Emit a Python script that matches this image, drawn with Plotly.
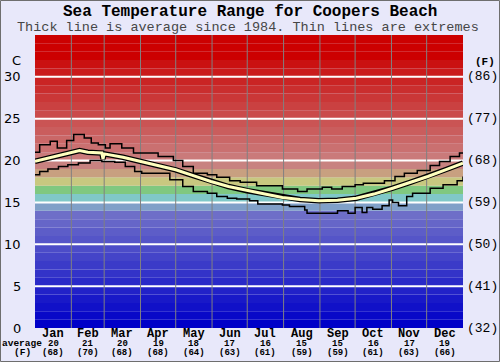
import plotly.graph_objects as go

# ---- data ----
month_names = ["Jan", "Feb", "Mar", "Apr", "May", "Jun", "Jul", "Aug", "Sep", "Oct", "Nov", "Dec"]
month_avg_c = ["20", "21", "20", "19", "18", "17", "16", "15", "15", "16", "17", "19"]
month_avg_f = ["(68)", "(70)", "(68)", "(68)", "(64)", "(63)", "(61)", "(59)", "(59)", "(61)", "(63)", "(66)"]
month_edges = [0, 31, 59, 90, 120, 151, 181, 212, 243, 273, 304, 334, 365]

c_ticks = [0, 5, 10, 15, 20, 25, 30]
f_labels = ["(32)", "(41)", "(50)", "(59)", "(68)", "(77)", "(86)"]

avg_day = [0, 15, 30, 38, 45, 57, 58, 59, 75, 90, 105, 120, 135, 150, 165, 181, 196, 211,
           226, 242, 258, 274, 289, 305, 320, 335, 350, 365]
avg_temp = [19.9, 20.4, 20.9, 21.2, 21.0, 20.9, 20.2, 20.8, 20.4, 19.9, 19.4, 18.9, 18.2, 17.5,
            16.9, 16.4, 16.0, 15.6, 15.35, 15.2, 15.25, 15.5, 16.0, 16.7, 17.4, 18.1, 18.9, 19.7]

max_day = [0, 4, 13, 19, 27, 33, 42, 48, 54, 60, 64, 74, 84, 98, 105, 118, 126, 135, 147, 155,
           166, 175, 189, 211, 224, 232, 245, 253, 262, 273, 280, 298, 307, 315, 326, 337, 345,
           354, 362, 365]
max_temp = [21.0, 21.9, 22.3, 21.5, 22.4, 23.1, 22.7, 22.1, 21.9, 21.5, 22.0, 21.5, 20.9, 20.9,
            20.5, 20.0, 19.3, 18.5, 18.3, 18.0, 17.6, 17.4, 17.0, 16.6, 16.3, 16.6, 16.8, 16.6,
            16.9, 17.1, 17.3, 17.6, 18.1, 18.5, 18.8, 19.4, 19.9, 20.5, 20.9, 20.9]

min_day = [0, 4, 11, 20, 28, 37, 47, 57, 68, 77, 85, 91, 115, 126, 135, 147, 155, 164, 172, 183,
           190, 211, 217, 230, 232, 258, 267, 273, 279, 283, 288, 296, 302, 305, 310, 317, 322,
           337, 348, 360, 365]
min_temp = [18.3, 18.7, 19.0, 19.3, 19.5, 19.7, 20.0, 19.9, 19.8, 19.3, 18.7, 18.5, 17.7, 16.9,
            16.3, 16.1, 15.7, 15.5, 15.4, 15.2, 14.8, 14.7, 14.5, 14.1, 13.7, 14.0, 13.7, 14.4,
            13.8, 14.4, 14.2, 14.6, 15.3, 15.0, 14.6, 15.7, 16.1, 16.7, 17.1, 17.6, 18.1]

# ---- background band colours (1 degree each) ----
def band_color(i):
    if i < 14:
        v = int(8.5 * i)
        return f"rgb({v},{v},200)"
    fixed = {14: (128, 160, 200), 15: (128, 200, 200), 16: (128, 200, 128),
             17: (200, 200, 128), 18: (200, 160, 128), 19: (200, 130, 128)}
    if i in fixed:
        r, g, b = fixed[i]
        return f"rgb({r},{g},{b})"
    if i >= 32:
        return "rgb(204,0,0)"
    v = int(122 - (i - 20) * 9.5)
    return f"rgb(202,{max(v,0)},{max(v,0)})"

shapes = []
for i in range(35):
    shapes.append(dict(type="rect", xref="paper", yref="y", x0=0, x1=1, y0=i, y1=i + 1,
                       fillcolor=band_color(i), line=dict(width=0), layer="below"))
for t in c_ticks[1:]:
    shapes.append(dict(type="line", xref="paper", yref="y", x0=0, x1=1, y0=t, y1=t,
                       line=dict(color="white", width=2), layer="below"))
for d in month_edges[1:-1]:
    shapes.append(dict(type="line", xref="x", yref="paper", x0=d, x1=d, y0=0, y1=1,
                       line=dict(color="rgb(128,128,128)", width=1), layer="below"))

W, H = 500, 362
L, R, T, B = 35, 37, 35, 34
pw, ph = W - L - R, H - T - B
# outer frame
shapes.append(dict(type="rect", xref="paper", yref="paper",
                   x0=(0.5 - L) / pw, x1=(W - 0.5 - L) / pw,
                   y0=-(B - 0.5) / ph, y1=1 + (T - 0.5) / ph,
                   line=dict(color="rgb(110,110,110)", width=1)))

fig = go.Figure()
fig.add_trace(go.Scatter(x=max_day, y=max_temp, mode="lines", line=dict(color="black", width=1.5, shape="hv"),
                         hoverinfo="skip"))
fig.add_trace(go.Scatter(x=min_day, y=min_temp, mode="lines", line=dict(color="black", width=1.5, shape="hv"),
                         hoverinfo="skip"))
fig.add_trace(go.Scatter(x=avg_day, y=avg_temp, mode="lines", line=dict(color="black", width=5.5),
                         hoverinfo="skip"))
fig.add_trace(go.Scatter(x=avg_day, y=avg_temp, mode="lines", line=dict(color="rgb(255,255,190)", width=3),
                         hoverinfo="skip"))

ann = []
ann.append(dict(text="<b>Sea Temperature Range for Coopers Beach</b>", xref="paper", yref="paper",
                x=(250 - L) / pw, y=1 + (T - 12) / ph, xanchor="center", yanchor="middle", showarrow=False,
                font=dict(family="Liberation Mono", size=16, color="black")))
ann.append(dict(text="Thick line is average since 1984. Thin lines are extremes", xref="paper", yref="paper",
                x=(248 - L) / pw, y=1 + (T - 27) / ph, xanchor="center", yanchor="middle", showarrow=False,
                font=dict(family="Liberation Mono", size=13.5, color="rgb(70,70,70)")))
for t in c_ticks:
    ann.append(dict(text=str(t), xref="paper", yref="y", x=-12 / pw, y=t, xanchor="right", yanchor="middle",
                    showarrow=False, font=dict(family="DejaVu Sans", size=13, color="black")))
for t, f in zip(c_ticks, f_labels):
    ann.append(dict(text=f, xref="paper", yref="y", x=1 + 2 / pw, y=t, xanchor="left", yanchor="middle",
                    showarrow=False, font=dict(family="Liberation Mono", size=13, color="black")))
ann.append(dict(text="C", xref="paper", yref="y", x=-12 / pw, y=31.9, xanchor="right", yanchor="middle",
                showarrow=False, font=dict(family="DejaVu Sans", size=13, color="black")))
ann.append(dict(text="<b>(F)</b>", xref="paper", yref="y", x=1 + 10 / pw, y=31.8, xanchor="left", yanchor="middle",
                showarrow=False, font=dict(family="Liberation Mono", size=11, color="black")))
for i, m in enumerate(month_names):
    cx = (month_edges[i] + month_edges[i + 1]) / 2
    ann.append(dict(text=f"<b>{m}</b>", xref="x", yref="paper", x=cx, y=-(334 - 328) / ph, xanchor="center",
                    yanchor="middle", showarrow=False, font=dict(family="Liberation Mono", size=12, color="black")))
    ann.append(dict(text=f"<b>{month_avg_c[i]}</b>", xref="x", yref="paper", x=cx, y=-(343.5 - 328) / ph,
                    xanchor="center", yanchor="middle", showarrow=False,
                    font=dict(family="Liberation Mono", size=9, color="black")))
    ann.append(dict(text=f"<b>{month_avg_f[i]}</b>", xref="x", yref="paper", x=cx, y=-(352.5 - 328) / ph,
                    xanchor="center", yanchor="middle", showarrow=False,
                    font=dict(family="Liberation Mono", size=9, color="black")))
ann.append(dict(text="<b>average</b>", xref="paper", yref="paper", x=(22 - L) / pw, y=-(343.5 - 328) / ph,
                xanchor="center", yanchor="middle", showarrow=False,
                font=dict(family="Liberation Mono", size=9.5, color="black")))
ann.append(dict(text="<b>(F)</b>", xref="paper", yref="paper", x=(22 - L) / pw, y=-(352.5 - 328) / ph,
                xanchor="center", yanchor="middle", showarrow=False,
                font=dict(family="Liberation Mono", size=9.5, color="black")))

fig.update_layout(
    width=W, height=H,
    margin=dict(l=L, r=R, t=T, b=B, pad=0),
    paper_bgcolor="rgb(232,232,250)",
    plot_bgcolor="rgb(232,232,250)",
    showlegend=False,
    shapes=shapes,
    annotations=ann,
    xaxis=dict(range=[0, 365], showgrid=False, zeroline=False, showticklabels=False, ticks="", fixedrange=True),
    yaxis=dict(range=[0, 35], showgrid=False, zeroline=False, showticklabels=False, ticks="", fixedrange=True),
)

fig.write_html("out.html", config={"displayModeBar": False},
               post_script="document.body.style.margin='0';document.body.style.overflow='hidden';")
